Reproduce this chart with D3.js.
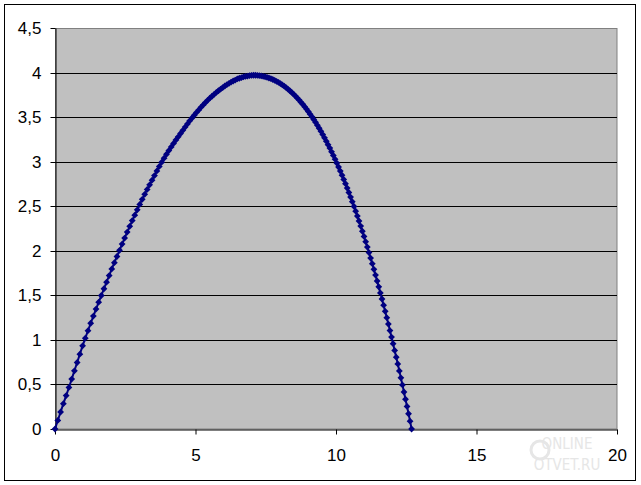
<!DOCTYPE html>
<html>
<head>
<meta charset="utf-8">
<script src="https://cdn.jsdelivr.net/npm/d3@7"></script>
<style>
  html, body { margin: 0; padding: 0; background: #ffffff; }
  svg { display: block; }
  text { font-family: Arial, "Liberation Sans", sans-serif; }
</style>
</head>
<body>
<svg id="chart" width="641" height="485"></svg>
<script>
// ---- data ----
const xTicks = [0, 5, 10, 15, 20];
const xTickLabels = ["0", "5", "10", "15", "20"];
const yTicks = [0, 0.5, 1, 1.5, 2, 2.5, 3, 3.5, 4, 4.5];
const yTickLabels = ["0", "0,5", "1", "1,5", "2", "2,5", "3", "3,5", "4", "4,5"];

// ascending part of the trajectory
const riseX = [0, 0.100, 0.199, 0.298, 0.397, 0.496, 0.594, 0.691, 0.788, 0.885,
  0.982, 1.078, 1.174, 1.270, 1.365, 1.460, 1.554, 1.648, 1.742, 1.835,
  1.928, 2.021, 2.113, 2.205, 2.296, 2.388, 2.478, 2.569, 2.659, 2.749,
  2.838, 2.927, 3.016, 3.104, 3.192, 3.280, 3.367, 3.454, 3.540, 3.626,
  3.712, 3.797, 3.882, 3.967, 4.052, 4.136, 4.219, 4.302, 4.385, 4.468,
  4.550, 4.632, 4.713, 4.794, 4.875, 4.956, 5.036, 5.115, 5.194, 5.273,
  5.352, 5.430, 5.508, 5.586, 5.663, 5.740, 5.816, 5.892, 5.968, 6.043,
  6.118, 6.193, 6.267, 6.341, 6.414, 6.488, 6.560, 6.633, 6.705, 6.777,
  6.848, 6.919, 6.990, 7.060];
const riseY = [0, 0.096, 0.191, 0.284, 0.375, 0.466, 0.560, 0.653, 0.746, 0.840,
  0.933, 1.019, 1.103, 1.187, 1.267, 1.346, 1.423, 1.498, 1.574, 1.648,
  1.722, 1.796, 1.866, 1.936, 2.005, 2.075, 2.143, 2.210, 2.274, 2.339,
  2.400, 2.460, 2.520, 2.577, 2.633, 2.688, 2.740, 2.792, 2.844, 2.896,
  2.947, 2.994, 3.039, 3.083, 3.125, 3.165, 3.205, 3.243, 3.279, 3.316,
  3.352, 3.388, 3.424, 3.458, 3.490, 3.522, 3.553, 3.581, 3.610, 3.637,
  3.663, 3.688, 3.712, 3.734, 3.756, 3.777, 3.796, 3.814, 3.832, 3.849,
  3.864, 3.879, 3.893, 3.905, 3.916, 3.928, 3.936, 3.943, 3.951, 3.957,
  3.961, 3.965, 3.969, 3.970];

// descending part of the trajectory
const fallX = [7.130, 7.200, 7.269, 7.339, 7.408, 7.477, 7.546, 7.614, 7.683, 7.751,
  7.819, 7.887, 7.955, 8.023, 8.090, 8.157, 8.224, 8.291, 8.358, 8.424,
  8.491, 8.557, 8.623, 8.689, 8.754, 8.820, 8.885, 8.950, 9.015, 9.080,
  9.144, 9.209, 9.273, 9.337, 9.401, 9.464, 9.528, 9.591, 9.654, 9.717,
  9.780, 9.842, 9.905, 9.967, 10.029, 10.091, 10.153, 10.214, 10.275, 10.337,
  10.398, 10.458, 10.519, 10.579, 10.640, 10.700, 10.760, 10.819, 10.879, 10.938,
  10.997, 11.056, 11.115, 11.174, 11.232, 11.291, 11.349, 11.407, 11.464, 11.522,
  11.579, 11.637, 11.694, 11.751, 11.807, 11.864, 11.920, 11.976, 12.032, 12.088,
  12.144, 12.199, 12.254, 12.309, 12.364, 12.419, 12.473, 12.528, 12.582, 12.636,
  12.690];
const fallY = [3.970, 3.968, 3.966, 3.962, 3.958, 3.953, 3.947, 3.939, 3.931, 3.922,
  3.912, 3.901, 3.889, 3.876, 3.862, 3.847, 3.831, 3.814, 3.796, 3.777,
  3.757, 3.736, 3.714, 3.691, 3.667, 3.643, 3.617, 3.590, 3.562, 3.533,
  3.503, 3.473, 3.441, 3.408, 3.375, 3.340, 3.304, 3.268, 3.230, 3.191,
  3.152, 3.111, 3.070, 3.028, 2.984, 2.940, 2.894, 2.848, 2.801, 2.753,
  2.704, 2.654, 2.603, 2.551, 2.498, 2.444, 2.389, 2.334, 2.277, 2.219,
  2.161, 2.102, 2.041, 1.980, 1.918, 1.855, 1.792, 1.727, 1.661, 1.595,
  1.527, 1.459, 1.390, 1.320, 1.249, 1.178, 1.105, 1.032, 0.957, 0.882,
  0.806, 0.730, 0.652, 0.574, 0.495, 0.415, 0.334, 0.253, 0.171, 0.088,
  0];

// ---- build the series ----
const xs = riseX.concat(fallX);
const ys = riseY.concat(fallY);
const points = xs.map((x, i) => ({ x: x, y: ys[i] }));

const svg = d3.select("#chart");
const W = 641, H = 485;
const plot = { left: 55, top: 28, right: 617, bottom: 429 };

// outer chart area border
svg.append("rect")
  .attr("x", 4.5).attr("y", 4.5)
  .attr("width", 631).attr("height", 476)
  .attr("fill", "#ffffff").attr("stroke", "#000000").attr("stroke-width", 1);

// watermark (faint)
const wm = svg.append("g").attr("fill", "#e6e6e6");
wm.append("text").attr("x", 567).attr("y", 449).attr("text-anchor", "middle")
  .style("font-size", "15px").style("font-family", "'DejaVu Sans Condensed', 'DejaVu Sans', sans-serif")
  .text("ONLINE");
wm.append("text").attr("x", 567).attr("y", 470).attr("text-anchor", "middle")
  .style("font-size", "15px").style("font-family", "'DejaVu Sans Condensed', 'DejaVu Sans', sans-serif")
  .text("OTVET.RU");
wm.append("circle").attr("cx", 540).attr("cy", 450).attr("r", 9)
  .attr("fill", "none").attr("stroke", "#e6e6e6").attr("stroke-width", 3);

const x = d3.scaleLinear().domain([0, 20]).range([plot.left, plot.right]);
const y = d3.scaleLinear().domain([0, 4.5]).range([plot.bottom, plot.top]);

// plot area
svg.append("rect")
  .attr("x", plot.left + 0.5).attr("y", plot.top + 0.5)
  .attr("width", plot.right - plot.left - 0.5).attr("height", plot.bottom - plot.top - 0.5)
  .attr("fill", "#c0c0c0").attr("stroke", "#808080").attr("stroke-width", 1);

// gridlines
svg.append("g").selectAll("line")
  .data(yTicks.filter(t => t > 0 && t < 4.5))
  .join("line")
  .attr("x1", plot.left).attr("x2", plot.right)
  .attr("y1", d => Math.round(y(d)) + 0.5).attr("y2", d => Math.round(y(d)) + 0.5)
  .attr("stroke", "#000000").attr("stroke-width", 1);

// axes
const yAxis = d3.axisLeft(y).tickValues(yTicks)
  .tickFormat((d, i) => yTickLabels[i]).tickSize(5).tickSizeOuter(0).tickPadding(9);
const gy = svg.append("g").attr("transform", `translate(${plot.left + 0.5},0)`).call(yAxis);
gy.selectAll("text").style("font-size", "17px").attr("fill", "#000");
gy.select(".domain").attr("stroke", "#000");
gy.selectAll(".tick").attr("transform", d => `translate(0,${Math.round(y(d)) + 0.5})`);

const xAxis = d3.axisBottom(x).tickValues(xTicks)
  .tickFormat((d, i) => xTickLabels[i]).tickSize(5).tickSizeOuter(0).tickPadding(14);
const gx = svg.append("g").attr("transform", `translate(0,${plot.bottom + 0.5})`).call(xAxis);
gx.selectAll("text").style("font-size", "17px").attr("fill", "#000");
gx.select(".domain").attr("stroke", "#000");

// series line
const line = d3.line().x(d => x(d.x)).y(d => y(d.y));
svg.append("path")
  .datum(points)
  .attr("d", line)
  .attr("fill", "none")
  .attr("stroke", "#000080")
  .attr("stroke-width", 2);

// diamond markers
const diamond = "M0,-3.4L3.4,0L0,3.4L-3.4,0Z";
svg.append("g").selectAll("path")
  .data(points)
  .join("path")
  .attr("d", diamond)
  .attr("transform", d => `translate(${x(d.x)},${y(d.y)})`)
  .attr("fill", "#000080")
  .attr("stroke", "none");
</script>
</body>
</html>
